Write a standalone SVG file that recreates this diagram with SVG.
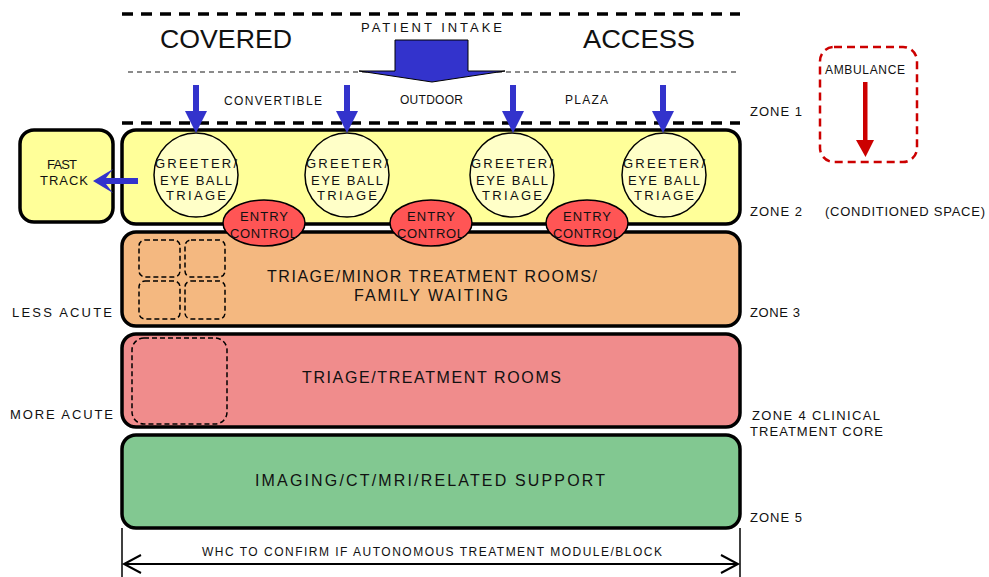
<svg xmlns="http://www.w3.org/2000/svg" width="989" height="577" viewBox="0 0 989 577">
<style>
text{font-family:"Liberation Sans",Arial,sans-serif;fill:#111;}
.s{font-size:13px;}
.m{font-size:16px;}
.b{font-size:26px;}
.zone{stroke:#000;stroke-width:3.5;}
.circ{fill:#FFFFC8;stroke:#000;stroke-width:1.5;}
.ent{fill:#FF5555;stroke:#000;stroke-width:1.5;}
.dsq{fill:none;stroke:#000;stroke-width:1.5;stroke-dasharray:5 3;}
.blue{fill:#3333CC;}
.dim{fill:none;stroke:#000;stroke-width:2;}
</style>

<g id="boundaries">
<line x1="122" y1="14" x2="740" y2="14" stroke="#000" stroke-width="3.5" stroke-dasharray="11 8"/>
<line x1="128" y1="72" x2="740" y2="72" stroke="#666" stroke-width="1.5" stroke-dasharray="5 4"/>
<line x1="122" y1="123" x2="740" y2="123" stroke="#000" stroke-width="3.5" stroke-dasharray="11 8"/>
<text class="b" x="160" y="48" textLength="132" lengthAdjust="spacingAndGlyphs">COVERED</text>
<text class="b" x="583" y="48" textLength="112" lengthAdjust="spacingAndGlyphs">ACCESS</text>
<text class="s" x="361" y="32" textLength="141" lengthAdjust="spacing">PATIENT INTAKE</text>
<text class="s" x="224" y="105" textLength="98" lengthAdjust="spacing" style="font-size:12px">CONVERTIBLE</text>
<text class="s" x="400" y="104" textLength="63" lengthAdjust="spacing" style="font-size:12px">OUTDOOR</text>
<text class="s" x="565" y="104" textLength="43" lengthAdjust="spacing" style="font-size:12px">PLAZA</text>
</g>

<g id="zone2">
<rect class="zone" x="122" y="130" width="618" height="94" rx="14" fill="#FFFF99"/>
<text class="s" x="750" y="116" textLength="52" lengthAdjust="spacing">ZONE 1</text>
<text class="s" x="750" y="216" textLength="52" lengthAdjust="spacing">ZONE 2</text>
<text class="s" x="825" y="216" textLength="160" lengthAdjust="spacing">(CONDITIONED SPACE)</text>
</g>

<g id="fast-track">
<rect class="zone" x="20" y="130" width="93" height="92" rx="14" fill="#FFFF99"/>
<text class="s" x="47" y="169" textLength="30" lengthAdjust="spacing">FAST</text>
<text class="s" x="40" y="185" textLength="48" lengthAdjust="spacing">TRACK</text>
</g>

<g id="greeter1">
<circle class="circ" cx="196" cy="175" r="42"/>
<text class="s" x="155" y="168" textLength="82" lengthAdjust="spacing">GREETER/</text>
<text class="s" x="160" y="185" textLength="72" lengthAdjust="spacing">EYE BALL</text>
<text class="s" x="166" y="200" textLength="60" lengthAdjust="spacing">TRIAGE</text>
</g>
<g id="greeter2">
<circle class="circ" cx="347" cy="175" r="42"/>
<text class="s" x="306" y="168" textLength="82" lengthAdjust="spacing">GREETER/</text>
<text class="s" x="311" y="185" textLength="72" lengthAdjust="spacing">EYE BALL</text>
<text class="s" x="317" y="200" textLength="60" lengthAdjust="spacing">TRIAGE</text>
</g>
<g id="greeter3">
<circle class="circ" cx="512" cy="175" r="42"/>
<text class="s" x="471" y="168" textLength="82" lengthAdjust="spacing">GREETER/</text>
<text class="s" x="476" y="185" textLength="72" lengthAdjust="spacing">EYE BALL</text>
<text class="s" x="482" y="200" textLength="60" lengthAdjust="spacing">TRIAGE</text>
</g>
<g id="greeter4">
<circle class="circ" cx="664" cy="175" r="42"/>
<text class="s" x="623" y="168" textLength="82" lengthAdjust="spacing">GREETER/</text>
<text class="s" x="628" y="185" textLength="72" lengthAdjust="spacing">EYE BALL</text>
<text class="s" x="634" y="200" textLength="60" lengthAdjust="spacing">TRIAGE</text>
</g>

<g id="zone3">
<rect class="zone" x="122" y="232" width="618" height="94" rx="14" fill="#F4B880"/>
<rect class="dsq" x="139" y="240" width="41" height="37" rx="6"/>
<rect class="dsq" x="185" y="240" width="40" height="37" rx="6"/>
<rect class="dsq" x="139" y="281" width="41" height="38" rx="6"/>
<rect class="dsq" x="185" y="281" width="40" height="38" rx="6"/>
<text class="m" x="267" y="282" textLength="330" lengthAdjust="spacing">TRIAGE/MINOR TREATMENT ROOMS/</text>
<text class="m" x="354" y="301" textLength="154" lengthAdjust="spacing">FAMILY WAITING</text>
<text class="s" x="12" y="317" textLength="100" lengthAdjust="spacing">LESS ACUTE</text>
<text class="s" x="750" y="317" textLength="50" lengthAdjust="spacing">ZONE 3</text>
</g>

<g id="entry1">
<ellipse class="ent" cx="264" cy="223" rx="41" ry="23"/>
<text class="s" x="240" y="221" textLength="48" lengthAdjust="spacing">ENTRY</text>
<text class="s" x="230" y="238" textLength="67" lengthAdjust="spacing">CONTROL</text>
</g>
<g id="entry2">
<ellipse class="ent" cx="431" cy="223" rx="41" ry="23"/>
<text class="s" x="407" y="221" textLength="48" lengthAdjust="spacing">ENTRY</text>
<text class="s" x="397" y="238" textLength="67" lengthAdjust="spacing">CONTROL</text>
</g>
<g id="entry3">
<ellipse class="ent" cx="587" cy="223" rx="41" ry="23"/>
<text class="s" x="563" y="221" textLength="48" lengthAdjust="spacing">ENTRY</text>
<text class="s" x="553" y="238" textLength="67" lengthAdjust="spacing">CONTROL</text>
</g>

<g id="zone4">
<rect class="zone" x="122" y="334" width="618" height="93" rx="14" fill="#F08C8C"/>
<rect class="dsq" x="132" y="338" width="95" height="86" rx="12"/>
<text class="m" x="302" y="383" textLength="259" lengthAdjust="spacing">TRIAGE/TREATMENT ROOMS</text>
<text class="s" x="10" y="419" textLength="103" lengthAdjust="spacing">MORE ACUTE</text>
<text class="s" x="752" y="420" textLength="128" lengthAdjust="spacing">ZONE 4 CLINICAL</text>
<text class="s" x="750" y="436" textLength="133" lengthAdjust="spacing">TREATMENT CORE</text>
</g>

<g id="zone5">
<rect class="zone" x="122" y="435" width="618" height="93" rx="14" fill="#82C891"/>
<text class="m" x="255" y="486" textLength="350" lengthAdjust="spacing">IMAGING/CT/MRI/RELATED SUPPORT</text>
<text class="s" x="750" y="522" textLength="52" lengthAdjust="spacing">ZONE 5</text>
</g>

<g id="ambulance">
<rect x="820" y="47" width="97" height="115" rx="14" fill="none" stroke="#CC0000" stroke-width="2.5" stroke-dasharray="8 5"/>
<text class="s" x="825" y="74" textLength="80" lengthAdjust="spacing" style="font-size:12px">AMBULANCE</text>
</g>

<g id="connectors">
<path class="blue" d="M395,40 H468 V71 H505 L432,82 L359,71 H395 Z" stroke="#000" stroke-width="1"/>
<g class="blue">
<path d="M193,85 H199 V111 H207 L196,133 L185,111 H193 Z"/>
<path d="M344,85 H350 V111 H358 L347,133 L336,111 H344 Z"/>
<path d="M510,85 H516 V111 H524 L513,133 L502,111 H510 Z"/>
<path d="M660,85 H666 V111 H674 L663,133 L652,111 H660 Z"/>
<path d="M138,178 V184 H106 L113,193 L93,181 L113,169 L106,178 Z"/>
</g>
<path d="M863,82 H867.5 V140 H874 L865.5,157 L856,140 H863 Z" fill="#CC0000"/>
<line x1="122" y1="528" x2="122" y2="577" stroke="#000" stroke-width="1.5"/>
<line x1="740" y1="528" x2="740" y2="577" stroke="#000" stroke-width="1.5"/>
<line x1="124" y1="564" x2="738" y2="564" class="dim"/>
<path class="dim" d="M141,555 L124,564 L141,573"/>
<path class="dim" d="M721,555 L738,564 L721,573"/>
<text class="s" x="202" y="556" textLength="460" lengthAdjust="spacing" style="font-size:12px">WHC TO CONFIRM IF AUTONOMOUS TREATMENT MODULE/BLOCK</text>
</g>
</svg>
